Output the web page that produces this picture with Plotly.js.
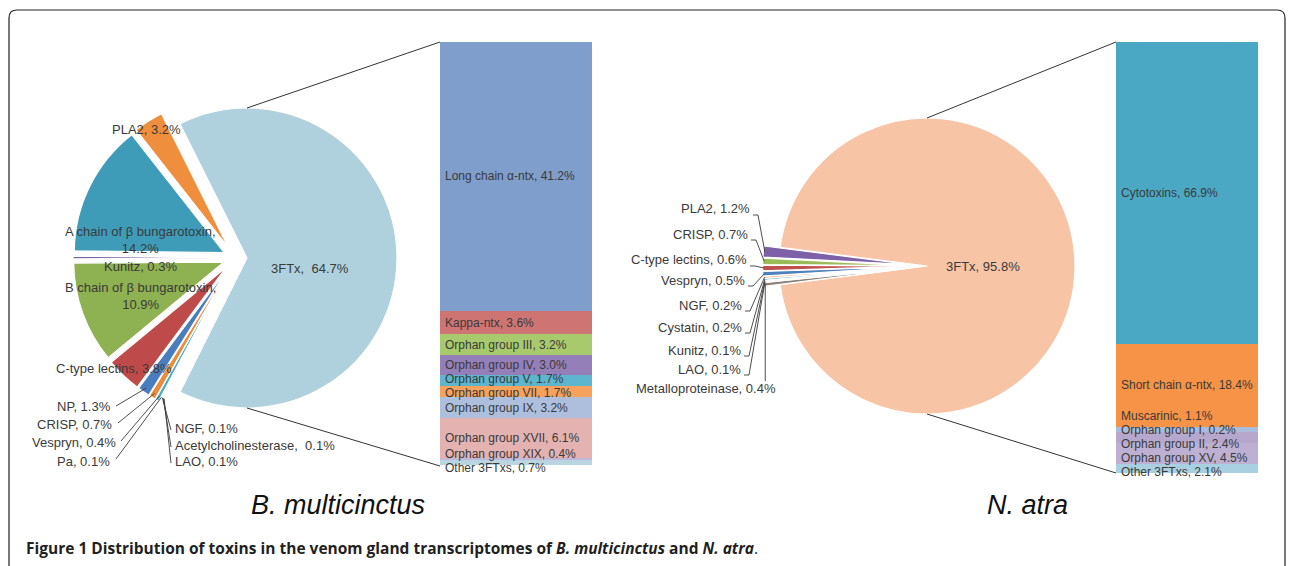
<!DOCTYPE html>
<html><head><meta charset="utf-8">
<script src="https://cdn.plot.ly/plotly-3.0.1.min.js"></script>
<style>html,body{margin:0;padding:0;background:#fff;}#chart{width:1290px;height:566px;}</style>
</head><body><div id="chart"></div>
<script>
// ---------------- data ----------------
const bmPieLabels = ['PLA2','A chain of β bungarotoxin','Kunitz','B chain of β bungarotoxin','C-type lectins','NP','CRISP','Vespryn','Pa','NGF','Acetylcholinesterase','LAO','3FTx'];
const bmPieValues = [3.2,14.2,0.3,10.9,3.8,1.3,0.7,0.4,0.1,0.1,0.1,0.1,64.7];
const bmBarLabels = ['Long chain α-ntx','Kappa-ntx','Orphan group III','Orphan group IV','Orphan group V','Orphan group VII','Orphan group IX','Orphan group XVII','Orphan group XIX','Other 3FTxs'];
const bmBarValues = [41.2,3.6,3.2,3.0,1.7,1.7,3.2,6.1,0.4,0.7];
const naPieLabels = ['PLA2','CRISP','C-type lectins','Vespryn','NGF','Cystatin','Kunitz','LAO','Metalloproteinase','3FTx'];
const naPieValues = [1.2,0.7,0.6,0.5,0.2,0.2,0.1,0.1,0.4,95.8];
const naBarLabels = ['Cytotoxins','Short chain α-ntx','Muscarinic','Orphan group I','Orphan group II','Orphan group XV','Other 3FTxs'];
const naBarValues = [66.9,18.4,1.1,0.2,2.4,4.5,2.1];
const speciesNames = ['B. multicinctus','N. atra'];

// ---------------- styles ----------------
const W = 1290, H = 566;
const px = x => x / W, py = y => 1 - y / H;
const FONT = 'Liberation Sans, Arial, sans-serif';
const TXT = '#3a3a3a';
const FS = 13, FS_BAR = 12, BAR_GAP = 14;
const bmPieColors = ['#EF8E3C','#3F9CB8','#7A62A2','#8EB151','#BE4B49','#4A7DBE','#E98D3D','#4FAAC5','#8C9DB5','#7F7F7F','#93A9CC','#A5A5A5','#AFD1DE'];
const naPieColors = ['#7E60A8','#9BBB59','#C0504D','#4F81BD','#F79646','#4BACC6','#8C8FC4','#6C6C9A','#8E8078','#F8C4A6'];
const bmBarColors = ['#7F9ECB','#CE7574','#A9C96D','#957FB9','#5DB5CE','#F6A25D','#AEBFDD','#E3B2B1','#C3B6D6','#B9D5E2'];
const naBarColors = ['#4BA8C4','#F69346','#A9BCDB','#C9DCAA','#B6A7CD','#BDB0D3','#A8D0E0'];

// pie geometry in page pixels (centre, radius, pulls)
const bmGeom = {cx:235, cy:258, r:150, pullBig:0.08, pullSmall:0.08};
const naGeom = {cx:927, cy:266, r:148, pullBig:0.0, pullSmall:0.11};
// bar boxes in page pixels
const bmBox = {x0:440, x1:592, y0:42, y1:465};
const naBox = {x0:1116, x1:1258, y0:42, y1:473};

const sum = a => a.reduce((s, v) => s + v, 0);

function makePie(labels, values, colors, g) {
  const n = labels.length, big = n - 1;
  const idx = [...Array(n).keys()].reverse();
  const pulls = idx.map(i => i === big ? g.pullBig : g.pullSmall);
  const maxPull = Math.max(...pulls);
  const half = g.r * (1 + maxPull);
  const h = 180 * values[big] / sum(values);
  return {
    type: 'pie', sort: false, direction: 'clockwise', rotation: 90 - h,
    labels: idx.map(i => labels[i]), values: idx.map(i => values[i]),
    marker: {colors: idx.map(i => colors[i]), line: {color: '#ffffff', width: 1.2}},
    pull: pulls, textinfo: 'none', hoverinfo: 'label+value', showlegend: false,
    domain: {x: [px(g.cx - half), px(g.cx + half)], y: [py(g.cy + half), py(g.cy - half)]}
  };
}

// outer point of slice k (natural order, counter-clockwise from the big slice's upper edge)
function sliceAnchor(values, g, k, frac) {
  const n = values.length, big = n - 1, total = sum(values);
  const h = 180 * values[big] / total;
  let cum = 0; for (let i = 0; i < k; i++) cum += values[i];
  const mid = (h + 360 * (cum + values[k] / 2) / total) * Math.PI / 180;
  const pull = (k === big ? g.pullBig : g.pullSmall) * g.r;
  const cx = g.cx + pull * Math.cos(mid), cy = g.cy - pull * Math.sin(mid);
  return [cx + frac * g.r * Math.cos(mid), cy - frac * g.r * Math.sin(mid)];
}

function barTraces(labels, values, colors, xa, ya) {
  return labels.map((lab, i) => ({
    type: 'bar', x: [0], y: [values[i]], width: [1], name: lab,
    marker: {color: colors[i], line: {width: 0}}, xaxis: xa, yaxis: ya,
    hoverinfo: 'name+y', showlegend: false
  }));
}

// label positions inside the bars (page pixels), de-overlapped by clusters
function labelPositions(values, box, minGap) {
  const total = sum(values), s = (box.y1 - box.y0) / total;
  let cum = 0;
  const desired = values.map(v => { const m = box.y0 + (cum + v / 2) * s; cum += v; return m; });
  let clusters = desired.map((d, i) => ({idx: [i], pos: d}));
  let merged = true;
  while (merged) {
    merged = false;
    for (let i = 0; i < clusters.length - 1; i++) {
      const a = clusters[i], b = clusters[i + 1];
      const aB = a.pos + (a.idx.length - 1) * minGap / 2;
      const bT = b.pos - (b.idx.length - 1) * minGap / 2;
      if (bT - aB < minGap) {
        const ix = a.idx.concat(b.idx);
        clusters.splice(i, 2, {idx: ix, pos: sum(ix.map(j => desired[j])) / ix.length});
        merged = true; break;
      }
    }
  }
  const out = [];
  clusters.forEach(c => c.idx.forEach((j, k) => { out[j] = c.pos + (k - (c.idx.length - 1) / 2) * minGap; }));
  return out;
}

const fmt = v => v.toFixed(1) + '%';

const traces = [
  makePie(bmPieLabels, bmPieValues, bmPieColors, bmGeom),
  makePie(naPieLabels, naPieValues, naPieColors, naGeom),
  ...barTraces(bmBarLabels, bmBarValues, bmBarColors, 'x', 'y'),
  ...barTraces(naBarLabels, naBarValues, naBarColors, 'x2', 'y2')
];

const annotations = [];
const shapes = [];
const ann = (text, x, y, opts) => annotations.push(Object.assign({
  text, x: px(x), y: py(y), xref: 'paper', yref: 'paper', showarrow: false,
  xanchor: 'center', yanchor: 'middle', font: {family: FONT, size: FS, color: TXT}
}, opts || {}));
const line = (p0, p1, color, w) => shapes.push({type: 'line', xref: 'paper', yref: 'paper',
  x0: px(p0[0]), y0: py(p0[1]), x1: px(p1[0]), y1: py(p1[1]), line: {color: color || '#3a3a3a', width: w || 0.9}});

// bar labels
[[bmBarLabels, bmBarValues, bmBox], [naBarLabels, naBarValues, naBox]].forEach(([labs, vals, box]) => {
  const pos = labelPositions(vals, box, BAR_GAP);
  labs.forEach((l, i) => ann(l + ', ' + fmt(vals[i]), box.x0 + 4, pos[i],
    {xanchor: 'left', borderpad: 0, font: {family: FONT, size: FS_BAR, color: TXT}}));
});

// B. multicinctus pie labels
const bm = l => bmPieLabels.indexOf(l);
const bmLab = i => bmPieLabels[i] + ', ' + fmt(bmPieValues[i]);
ann(bmLab(bm('3FTx')).replace(', ', ',  '), 310, 268);
ann(bmLab(bm('PLA2')), 146, 130);
ann(bmPieLabels[bm('A chain of β bungarotoxin')] + ',<br>' + fmt(bmPieValues[1]), 140, 240);
ann(bmLab(bm('Kunitz')), 140, 266);
ann(bmPieLabels[bm('B chain of β bungarotoxin')] + ',<br>' + fmt(bmPieValues[3]), 140, 296);
ann(bmLab(bm('C-type lectins')), 114, 368);
// left-side leaders
[['NP', 113, 406, [116, 406]], ['CRISP', 114, 424, [118, 423]], ['Vespryn', 118, 442, [121, 441]], ['Pa', 112, 461, [116, 459]]]
  .forEach(([l, x, y, p]) => {
    ann(bmLab(bm(l)), x, y, {xanchor: 'right'});
    line(p, sliceAnchor(bmPieValues, bmGeom, bm(l), 0.97));
  });
[['NGF', 428], ['Acetylcholinesterase', 445], ['LAO', 461]].forEach(([l, y]) => {
  const t = l === 'Acetylcholinesterase' ? bmLab(bm(l)).replace(', ', ',  ') : bmLab(bm(l));
  ann(t, 173, y, {xanchor: 'left'});
  line([171, y + 2], sliceAnchor(bmPieValues, bmGeom, bm(l), 0.97));
});

// N. atra pie labels
const na = l => naPieLabels.indexOf(l);
const naLab = i => naPieLabels[i] + ', ' + fmt(naPieValues[i]);
ann(naLab(na('3FTx')), 983, 266);
[['PLA2', 752, 209], ['CRISP', 750, 234], ['C-type lectins', 749, 260], ['Vespryn', 747, 280], ['NGF', 744, 305],
 ['Cystatin', 744, 327], ['Kunitz', 743, 350], ['LAO', 743, 369]].forEach(([l, x, y]) => {
  ann(naLab(na(l)), x, y, {xanchor: 'right'});
  const a = sliceAnchor(naPieValues, naGeom, na(l), 0.99);
  line([x + 1, y + 6], [x + 6, y + 6]);
  line([x + 6, y + 6], a);
});
{
  const a = sliceAnchor(naPieValues, naGeom, na('Metalloproteinase'), 0.99);
  ann(naLab(na('Metalloproteinase')), 706, 388);
  line(a, [a[0], 381]);
}

// series connector lines (bar corners to the split slice)
{
  const topB = sliceAnchor(bmPieValues, bmGeom, bm('3FTx'), 0); // pulled centre of 3FTx
  line([bmBox.x0, bmBox.y0], [topB[0], topB[1] - bmGeom.r], '#333', 1);
  line([bmBox.x0, bmBox.y1 + 1], [topB[0], topB[1] + bmGeom.r], '#333', 1);
  const c = sliceAnchor(naPieValues, naGeom, na('3FTx'), 0);
  line([naBox.x0, naBox.y0], [c[0], c[1] - naGeom.r], '#333', 1);
  line([naBox.x0, naBox.y1], [c[0], c[1] + naGeom.r], '#333', 1);
}

// species names
ann('<i>' + speciesNames[0] + '</i>', 338, 505, {font: {family: FONT, size: 27, color: '#111'}});
ann('<i>' + speciesNames[1] + '</i>', 1027, 505, {font: {family: FONT, size: 27, color: '#111'}});

// caption
ann('<b>Figure 1 Distribution of toxins in the venom gland transcriptomes of <i>' + speciesNames[0] +
    '</i> and <i>' + speciesNames[1] + '</i></b>.', 24, 548,
    {xanchor: 'left', font: {family: 'Open Sans, sans-serif', size: 15.5, color: '#231F20'}});

// frame
{
  const X = x => px(x).toFixed(5), Y = y => py(y).toFixed(5);
  shapes.push({type: 'path', xref: 'paper', yref: 'paper', line: {color: '#222', width: 1.2},
    path: `M ${X(9)},${Y(620)} L ${X(9)},${Y(18)} Q ${X(9)},${Y(10)} ${X(17)},${Y(10)} L ${X(1277)},${Y(10)} Q ${X(1285)},${Y(10)} ${X(1285)},${Y(18)} L ${X(1285)},${Y(620)}`});
}

const layout = {
  width: W, height: H, margin: {l: 0, r: 0, t: 0, b: 0}, paper_bgcolor: '#fff', plot_bgcolor: 'rgba(0,0,0,0)',
  barmode: 'stack', bargap: 0, showlegend: false, font: {family: FONT, color: TXT},
  xaxis: {domain: [px(bmBox.x0), px(bmBox.x1)], range: [-0.5, 0.5], visible: false, fixedrange: true},
  yaxis: {domain: [py(bmBox.y1), py(bmBox.y0)], range: [sum(bmBarValues), 0], visible: false, fixedrange: true},
  xaxis2: {domain: [px(naBox.x0), px(naBox.x1)], range: [-0.5, 0.5], visible: false, fixedrange: true, anchor: 'y2'},
  yaxis2: {domain: [py(naBox.y1), py(naBox.y0)], range: [sum(naBarValues), 0], visible: false, fixedrange: true, anchor: 'x2'},
  annotations, shapes
};

Plotly.newPlot('chart', traces, layout, {displayModeBar: false, staticPlot: true});
</script>
</body></html>
